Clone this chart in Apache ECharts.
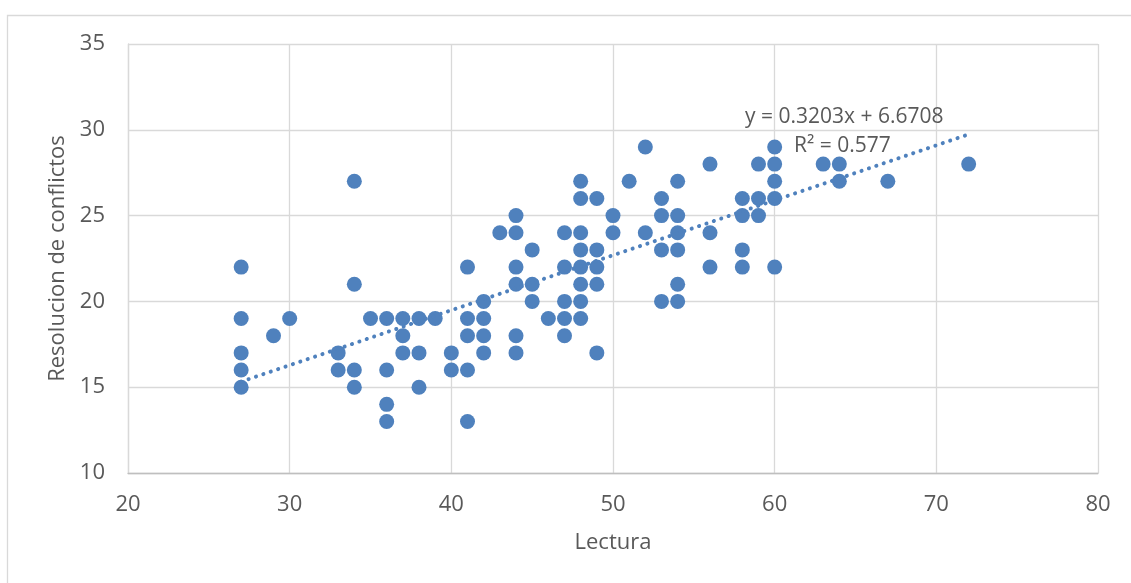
<!DOCTYPE html>
<html>
<head>
<meta charset="utf-8">
<script src="https://cdn.jsdelivr.net/npm/echarts@6/dist/echarts.min.js"></script>
<style>
html,body{margin:0;padding:0;background:#fff;}
#chart{width:1131px;height:583px;}
</style>
</head>
<body>
<div id="chart"></div>
<script>
// Lectura (x) values
var lectura = [
  27,27,27,27,27,
  29,30,
  33,33,
  34,34,34,34,
  35,
  36,36,36,36,
  37,37,37,
  38,38,38,
  39,
  40,40,
  41,41,41,41,41,
  42,42,42,42,
  43,
  44,44,44,44,44,44,
  45,45,45,
  46,
  47,47,47,47,47,
  48,48,48,48,48,48,48,48,
  49,49,49,49,49,
  50,50,
  51,
  52,52,
  53,53,53,53,
  54,54,54,54,54,54,
  56,56,56,
  58,58,58,58,
  59,59,59,
  60,60,60,60,60,
  63,
  64,64,
  67,
  72
];
// Resolucion de conflictos (y) values
var resolucion = [
  22,19,17,16,15,
  18,19,
  17,16,
  27,21,16,15,
  19,
  19,16,14,13,
  19,18,17,
  19,17,15,
  19,
  17,16,
  22,19,18,16,13,
  20,19,18,17,
  24,
  25,24,22,21,18,17,
  23,21,20,
  19,
  24,22,20,19,18,
  27,26,24,23,22,21,20,19,
  26,23,22,21,17,
  25,24,
  27,
  29,24,
  26,25,23,20,
  27,25,24,23,21,20,
  28,24,22,
  26,25,23,22,
  28,26,25,
  29,28,27,26,22,
  28,
  28,27,
  27,
  28
];
var trendSlope = 0.3203;
var trendIntercept = 6.6708;
var rSquared = 0.577;
var xTicks = [20, 30, 40, 50, 60, 70, 80];
var yTicks = [10, 15, 20, 25, 30, 35];

var points = lectura.map(function (x, i) { return [x, resolucion[i]]; });
var xMin = Math.min.apply(null, lectura), xMax = Math.max.apply(null, lectura);
var trend = [[xMin, trendSlope * xMin + trendIntercept], [xMax, trendSlope * xMax + trendIntercept]];

var FONT = 'Open Sans';
var TXT = '#595959';
var BLUE = '#4F81BD';

var chart = echarts.init(document.getElementById('chart'), null, {renderer: 'canvas'});
chart.setOption({
  animation: false,
  backgroundColor: '#ffffff',
  grid: {left: 128, right: 33, top: 44, bottom: 110, containLabel: false},
  xAxis: {
    type: 'value', min: xTicks[0], max: xTicks[xTicks.length - 1], interval: 10,
    name: 'Lectura', nameLocation: 'middle', nameGap: 59,
    nameTextStyle: {fontFamily: FONT, fontSize: 22, color: TXT},
    axisLine: {show: true, lineStyle: {color: '#BFBFBF', width: 1.3}},
    axisTick: {show: false},
    axisLabel: {fontFamily: FONT, fontSize: 22, color: TXT, margin: 21},
    splitLine: {show: true, lineStyle: {color: '#D9D9D9', width: 1.3}}
  },
  yAxis: {
    type: 'value', min: yTicks[0], max: yTicks[yTicks.length - 1], interval: 5,
    name: 'Resolucion de conflictos', nameLocation: 'middle', nameGap: 49, nameRotate: 90,
    nameTextStyle: {fontFamily: FONT, fontSize: 22, color: TXT},
    axisLine: {show: true, lineStyle: {color: '#D9D9D9', width: 1.3}},
    axisTick: {show: false},
    axisLabel: {fontFamily: FONT, fontSize: 22, color: TXT, margin: 23},
    splitLine: {show: true, lineStyle: {color: '#D9D9D9', width: 1.3}}
  },
  series: [
    {
      type: 'scatter', data: points, symbol: 'circle', symbolSize: 15,
      itemStyle: {color: BLUE, opacity: 1}, z: 3
    },
    {
      type: 'line', data: trend, showSymbol: false, symbol: 'none', z: 4,
      lineStyle: {color: BLUE, width: 4, type: [0.1, 7.7], cap: 'round'}
    }
  ],
  graphic: [
    {type: 'rect', shape: {x: 7.5, y: 15.5, width: 1200, height: 700}, style: {fill: 'none', stroke: '#D9D9D9', lineWidth: 1.3}, z: 0, silent: true},
    {type: 'text', left: 745, top: 107, style: {text: 'y = ' + trendSlope + 'x + ' + trendIntercept, fontFamily: FONT, fontSize: 21, fill: TXT}, z: 10},
    {type: 'text', left: 794, top: 136, style: {text: 'R² = ' + rSquared, fontFamily: FONT, fontSize: 21, fill: TXT}, z: 10}
  ]
});
</script>
</body>
</html>
